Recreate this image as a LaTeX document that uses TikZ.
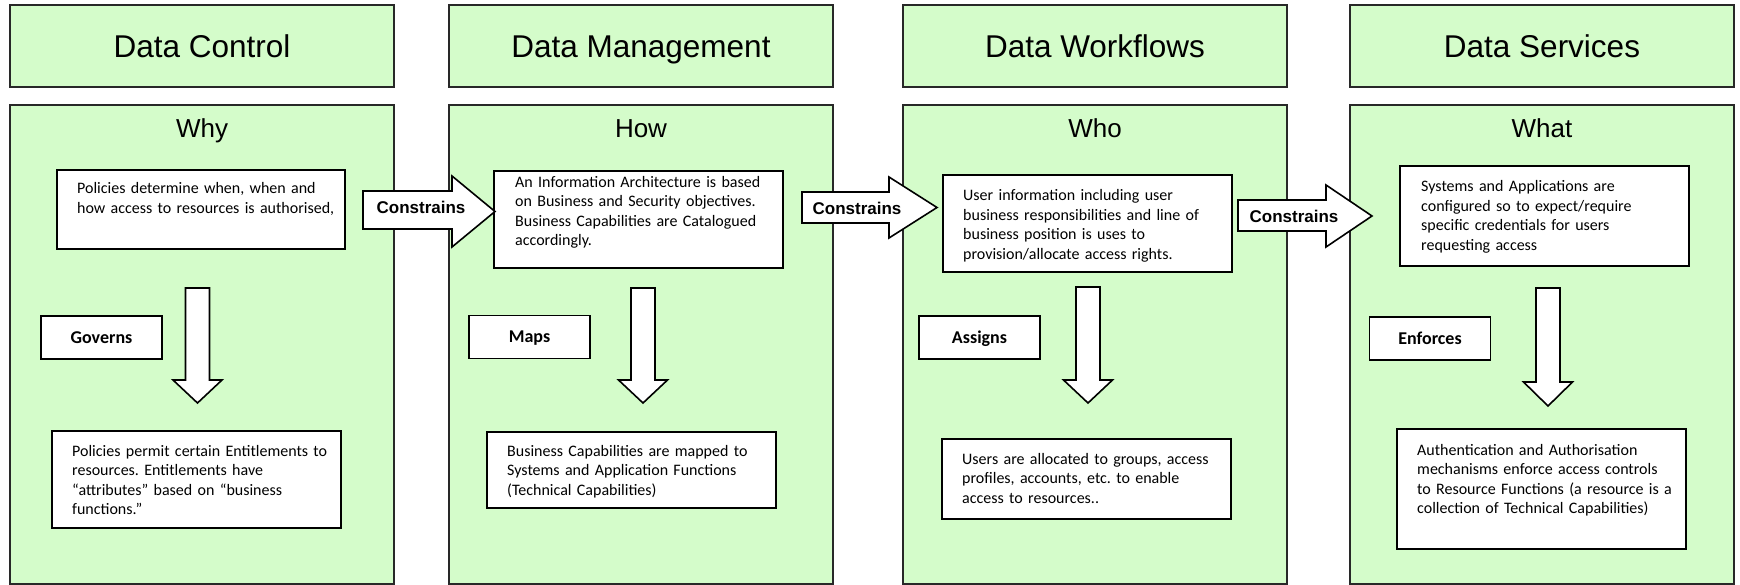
\documentclass[tikz,border=0pt]{standalone}
\usepackage{fontspec}
\setmainfont{Carlito}
\newfontfamily\arialfont{Liberation Sans}
\definecolor{panelgreen}{RGB}{212,252,202}
\definecolor{edgegray}{RGB}{40,40,40}
\newcommand\downblock[4]{%
  \draw[barrow] (#1-12,#2) -- (#1+12,#2) -- (#1+12,#3) -- (#1+24.5,#3) -- (#1,#4) -- (#1-24.5,#3) -- (#1-12,#3) -- cycle;}
\begin{document}
\frenchspacing
\begin{tikzpicture}[x=1bp,y=-1bp,
  panel/.style={draw=edgegray, line width=1.6bp, fill=panelgreen, inner sep=0pt},
  hdr/.style={panel, minimum width=384bp, minimum height=82bp, font=\arialfont\fontsize{31.5bp}{36bp}\selectfont, text height=22.6bp, text depth=0bp},
  colpanel/.style={panel, minimum width=384bp, minimum height=479bp},
  ttl/.style={anchor=base, inner sep=0pt, font=\arialfont\fontsize{26bp}{30bp}\selectfont},
  tbox/.style={draw=black, line width=1.6bp, fill=white, inner sep=0pt},
  body/.style={anchor=base west, inner sep=0pt, text width=280bp, align=left, font=\fontsize{16bp}{19.5bp}\selectfont\frenchspacing},
  lbox/.style={draw=black, line width=1.6bp, fill=white, minimum width=121bp, minimum height=43bp, inner sep=0pt, font=\bfseries\fontsize{18bp}{21bp}\selectfont, text height=11.6bp, text depth=0bp},
  barrow/.style={draw=black, line width=1.6bp, fill=white, line join=miter},
  clabel/.style={anchor=base, inner sep=0pt, font=\arialfont\bfseries\fontsize{17bp}{20bp}\selectfont},
]
\useasboundingbox (0,0) rectangle (1740,585);
\fill[white] (0,0) rectangle (1740,585);

% headers
\node[hdr] (h1) at (202,46) {Data Control};
\node[hdr] (h2) at (641,46) {Data Management};
\node[hdr] (h3) at (1095,46) {Data Workflows};
\node[hdr] (h4) at (1542,46) {Data Services};

% column panels
\node[colpanel] (p1) at (202,344.5) {};
\node[colpanel] (p2) at (641,344.5) {};
\node[colpanel] (p3) at (1095,344.5) {};
\node[colpanel] (p4) at (1542,344.5) {};

% titles
\node[ttl] (w1) at (202,138) {Why};
\node[ttl] (w2) at (641,138) {How};
\node[ttl] (w3) at (1095,138) {Who};
\node[ttl] (w4) at (1542,138) {What};

% text boxes
\node[tbox, minimum width=288bp, minimum height=79bp] (b1a) at (201,209.5) {};
\node[tbox, minimum width=289bp, minimum height=97bp] (b1b) at (196.5,479.5) {};
\node[tbox, minimum width=289bp, minimum height=97bp] (b2a) at (638.5,219.5) {};
\node[tbox, minimum width=289bp, minimum height=76bp] (b2b) at (631.5,470) {};
\node[tbox, minimum width=289bp, minimum height=97bp] (b3a) at (1087.5,223.5) {};
\node[tbox, minimum width=289bp, minimum height=80bp] (b3b) at (1086.5,479) {};
\node[tbox, minimum width=289bp, minimum height=100bp] (b4a) at (1544.5,216) {};
\node[tbox, minimum width=289bp, minimum height=120bp] (b4b) at (1541.5,489) {};

\node[body] (t1a) at (77,194) {Policies determine when, when and\\how access to resources is authorised,};
\node[body] (t1b) at (72,456) {Policies permit certain Entitlements to\\resources. Entitlements have\\“attributes” based on “business\\functions.”};
\node[body] (t2a) at (515,187.5) {An Information Architecture is based\\on Business and Security objectives.\\Business Capabilities are Catalogued\\accordingly.};
\node[body] (t2b) at (507,456) {Business Capabilities are mapped to\\Systems and Application Functions\\(Technical Capabilities)};
\node[body] (t3a) at (963,201) {User information including user\\business responsibilities and line of\\business position is uses to\\provision/allocate access rights.};
\node[body] (t3b) at (962,464) {Users are allocated to groups, access\\profiles, accounts, etc. to enable\\access to resources..};
\node[body] (t4a) at (1421,192) {Systems and Applications are\\configured so to expect/require\\specific credentials for users\\requesting access};
\node[body] (t4b) at (1417,455) {Authentication and Authorisation\\mechanisms enforce access controls\\to Resource Functions (a resource is a\\collection of Technical Capabilities)};

% verb labels
\node[lbox] (g1) at (101.5,337.5) {Governs};
\node[lbox] (g2) at (529.5,337) {Maps};
\node[lbox] (g3) at (979.5,337.5) {Assigns};
\node[lbox] (g4) at (1430,338.5) {Enforces};

% down block arrows
\downblock{197.5}{288}{380}{403}
\downblock{643}{288}{380}{403}
\downblock{1088}{287}{380}{403}
\downblock{1548}{288}{382}{406}

% right block arrows
\draw[barrow] (363,191) -- (452,191) -- (452,176) -- (495,211.5) -- (452,247) -- (452,229) -- (363,229) -- cycle;
\draw[barrow] (802,192) -- (889,192) -- (889,177) -- (937,207.5) -- (889,238) -- (889,223) -- (802,223) -- cycle;
\draw[barrow] (1238,200) -- (1326,200) -- (1326,185) -- (1372,216) -- (1326,247) -- (1326,231) -- (1238,231) -- cycle;
\node[clabel] (c1) at (421,214) {Constrains};
\node[clabel] (c2) at (857,215) {Constrains};
\node[clabel] (c3) at (1294,223) {Constrains};
\end{tikzpicture}
\end{document}
